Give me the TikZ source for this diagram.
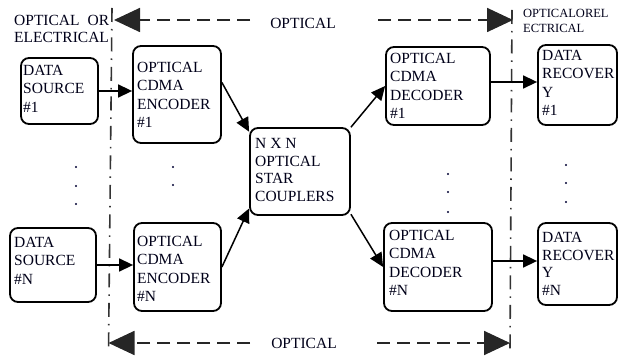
\documentclass[tikz,border=0pt]{standalone}
\usepackage{fontspec}
\setmainfont{Liberation Serif}
\usetikzlibrary{arrows.meta,calc}
\tikzset{
  blk/.style={draw=black, line width=1.8pt, rounded corners=8pt, inner sep=0pt, fill=white},
  txt/.style={anchor=north west, inner sep=0pt, align=left, text=black!90!blue, font=\fontsize{15.5}{18.3}\selectfont},
  conn/.style={line width=1.5pt, -{Triangle[length=14pt,width=13pt]}},
  bigarr/.style={line width=1.8pt, black!85, dash pattern=on 13pt off 7pt, -{Triangle[length=26pt,width=24pt]}},
  divline/.style={line width=1.6pt, black!80, dash pattern=on 14pt off 7pt on 1.5pt off 7pt},
  dotmark/.style={fill=black!80!blue}
}
\begin{document}
\begin{tikzpicture}[x=1pt,y=-1pt]
\useasboundingbox (0,0) rectangle (619,358);
% boxes
\node[blk, minimum width=77pt, minimum height=66pt] (DS1) at (59.5,91) {};
\node[blk, minimum width=88pt, minimum height=97pt] (ENC1) at (177,94.5) {};
\node[blk, minimum width=86pt, minimum height=74pt] (DSN) at (53,265) {};
\node[blk, minimum width=87pt, minimum height=88pt] (ENCN) at (177.5,267) {};
\node[blk, minimum width=100pt, minimum height=87pt] (STAR) at (300,171.5) {};
\node[blk, minimum width=104pt, minimum height=78pt] (DEC1) at (438,86) {};
\node[blk, minimum width=108pt, minimum height=88pt] (DECN) at (438,267) {};
\node[blk, minimum width=79pt, minimum height=80pt] (REC1) at (577.5,85) {};
\node[blk, minimum width=79pt, minimum height=82pt] (RECN) at (577.5,264) {};
% box texts
\node[txt] (tDS1) at (23,65) {DATA\\SOURCE\\\#1};
\node[txt] (tENC1) at (137,62) {OPTICAL\\CDMA\\ENCODER\\\#1};
\node[txt] (tDSN) at (14,237) {DATA\\SOURCE\\\#N};
\node[txt] (tENCN) at (137,236) {OPTICAL\\CDMA\\ENCODER\\\#N};
\node[txt, font=\fontsize{15.5}{17.7}\selectfont] (tSTAR) at (255,138) {N X N\\OPTICAL\\STAR\\COUPLERS};
\node[txt] (tDEC1) at (390,53) {OPTICAL\\CDMA\\DECODER\\\#1};
\node[txt] (tDECN) at (389,230) {OPTICAL\\CDMA\\DECODER\\\#N};
\node[txt] (tREC1) at (542,50) {DATA\\RECOVER\\Y\\\#1};
\node[txt, font=\fontsize{15.5}{17.7}\selectfont] (tRECN) at (542,232) {DATA\\RECOVER\\Y\\\#N};
% region labels
\node[txt, font=\fontsize{15.5}{17}\selectfont] (tLeft) at (14,15) {\makebox[95pt][s]{OPTICAL OR}\\ELECTRICAL};
\node[txt, font=\fontsize{12.5}{15}\selectfont] (tRight) at (523,9) {OPTICALOREL\\ECTRICAL};
\node[inner sep=0pt, text=black!90!blue, font=\fontsize{15.5}{18}\selectfont] (TOPT) at (303,23) {OPTICAL};
\node[inner sep=0pt, text=black!90!blue, font=\fontsize{15.5}{18}\selectfont] (BOPT) at (304,343) {OPTICAL};
% divider lines
\coordinate (LT) at (112,8);
\coordinate (LB) at (108.5,353);
\coordinate (RT) at (512,10);
\coordinate (RB) at (510,351);
\draw[divline] (LT) -- (LB);
\draw[divline] (RT) -- (RB);
% dashed region arrows
\coordinate (TLs) at (250,20);
\coordinate (TRs) at (378,20);
\coordinate (BLs) at (250,343);
\coordinate (BRs) at (377,343);
\coordinate (TLt) at (114,20);
\coordinate (TRt) at (513,20);
\coordinate (BLt) at (108.5,343);
\coordinate (BRt) at (510,343);
\draw[bigarr] (TLs) -- (TLt);
\draw[bigarr] (TRs) -- (TRt);
\draw[bigarr] (BLs) -- (BLt);
\draw[bigarr] (BRs) -- (BRt);
% connectors
\draw[conn] (DS1.east) -- (DS1.east -| ENC1.west);
\draw[conn] (DSN.east) -- (DSN.east -| ENCN.west);
\draw[conn] (ENC1.15) -- (STAR.142);
\draw[conn] (ENCN.east) -- (STAR.216);
\draw[conn] (STAR.41) -- (DEC1.west);
\draw[conn] (STAR.-40) -- (DECN.west);
\draw[conn] ([yshift=4pt]DEC1.east) -- ([yshift=4pt]DEC1.east -| REC1.west);
\draw[conn] ([yshift=6pt]DECN.east) -- ([yshift=6pt]DECN.east -| RECN.west);
% ellipsis dots
\foreach \p in {(76,167),(76,186),(76,204),(173,167),(173,185),(448,174),(448,192),(448,212),(566,165),(566,183),(566,202)}
  \fill[dotmark] \p circle (1.1pt);
\end{tikzpicture}
\end{document}
